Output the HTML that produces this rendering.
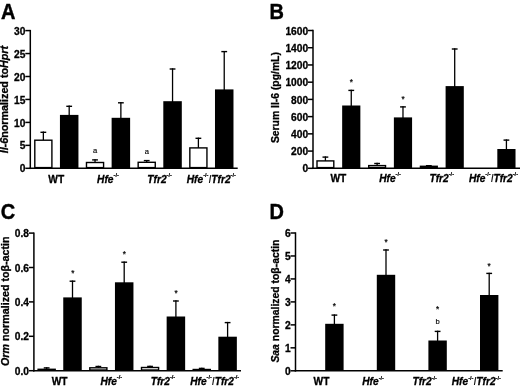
<!DOCTYPE html>
<html><head><meta charset="utf-8"><style>
html,body{margin:0;padding:0;background:#fff;}
svg{display:block;font-family:"Liberation Sans", sans-serif;will-change:transform;}
</style></head><body>
<svg width="520" height="387" viewBox="0 0 520 387">
<rect width="520" height="387" fill="#fff"/>
<text transform="translate(0.9,18.9) scale(0.9,1)" font-size="22.2" font-weight="bold" stroke="#000" stroke-width="0.45">A</text>
<line x1="30.30" y1="29.90" x2="30.30" y2="169.05" stroke="#000" stroke-width="1.5"/>
<line x1="29.55" y1="168.30" x2="237.70" y2="168.30" stroke="#000" stroke-width="1.5"/>
<line x1="25.30" y1="168.30" x2="30.30" y2="168.30" stroke="#000" stroke-width="1.5"/>
<text x="25.40" y="172.40" font-size="10.2" font-weight="bold" font-style="normal" text-anchor="end" stroke="#000" stroke-width="0.3" >0</text>
<line x1="25.30" y1="145.35" x2="30.30" y2="145.35" stroke="#000" stroke-width="1.5"/>
<text x="25.40" y="149.45" font-size="10.2" font-weight="bold" font-style="normal" text-anchor="end" stroke="#000" stroke-width="0.3" >5</text>
<line x1="25.30" y1="122.40" x2="30.30" y2="122.40" stroke="#000" stroke-width="1.5"/>
<text x="25.40" y="126.50" font-size="10.2" font-weight="bold" font-style="normal" text-anchor="end" stroke="#000" stroke-width="0.3" >10</text>
<line x1="25.30" y1="99.45" x2="30.30" y2="99.45" stroke="#000" stroke-width="1.5"/>
<text x="25.40" y="103.55" font-size="10.2" font-weight="bold" font-style="normal" text-anchor="end" stroke="#000" stroke-width="0.3" >15</text>
<line x1="25.30" y1="76.50" x2="30.30" y2="76.50" stroke="#000" stroke-width="1.5"/>
<text x="25.40" y="80.60" font-size="10.2" font-weight="bold" font-style="normal" text-anchor="end" stroke="#000" stroke-width="0.3" >20</text>
<line x1="25.30" y1="53.55" x2="30.30" y2="53.55" stroke="#000" stroke-width="1.5"/>
<text x="25.40" y="57.65" font-size="10.2" font-weight="bold" font-style="normal" text-anchor="end" stroke="#000" stroke-width="0.3" >25</text>
<line x1="25.30" y1="30.60" x2="30.30" y2="30.60" stroke="#000" stroke-width="1.5"/>
<text x="25.40" y="34.70" font-size="10.2" font-weight="bold" font-style="normal" text-anchor="end" stroke="#000" stroke-width="0.3" >30</text>
<line x1="43.35" y1="131.60" x2="43.35" y2="140.50" stroke="#000" stroke-width="1.3"/>
<line x1="40.45" y1="132.30" x2="46.25" y2="132.30" stroke="#000" stroke-width="1.4"/>
<rect x="34.80" y="140.20" width="17.10" height="27.40" fill="#fff" stroke="#000" stroke-width="1.4"/>
<line x1="69.19" y1="105.60" x2="69.19" y2="115.90" stroke="#000" stroke-width="1.3"/>
<line x1="66.29" y1="106.30" x2="72.09" y2="106.30" stroke="#000" stroke-width="1.4"/>
<rect x="59.94" y="114.90" width="18.50" height="53.40" fill="#000"/>
<line x1="95.03" y1="159.20" x2="95.03" y2="162.80" stroke="#000" stroke-width="1.3"/>
<line x1="92.13" y1="159.90" x2="97.93" y2="159.90" stroke="#000" stroke-width="1.4"/>
<rect x="86.48" y="162.50" width="17.10" height="5.10" fill="#fff" stroke="#000" stroke-width="1.4"/>
<line x1="120.87" y1="102.10" x2="120.87" y2="118.80" stroke="#000" stroke-width="1.3"/>
<line x1="117.97" y1="102.80" x2="123.77" y2="102.80" stroke="#000" stroke-width="1.4"/>
<rect x="111.62" y="117.80" width="18.50" height="50.50" fill="#000"/>
<line x1="146.71" y1="159.90" x2="146.71" y2="162.60" stroke="#000" stroke-width="1.3"/>
<line x1="143.81" y1="160.60" x2="149.61" y2="160.60" stroke="#000" stroke-width="1.4"/>
<rect x="138.16" y="162.30" width="17.10" height="5.30" fill="#fff" stroke="#000" stroke-width="1.4"/>
<line x1="172.55" y1="68.30" x2="172.55" y2="102.20" stroke="#000" stroke-width="1.3"/>
<line x1="169.65" y1="69.00" x2="175.45" y2="69.00" stroke="#000" stroke-width="1.4"/>
<rect x="163.30" y="101.20" width="18.50" height="67.10" fill="#000"/>
<line x1="198.39" y1="137.60" x2="198.39" y2="148.20" stroke="#000" stroke-width="1.3"/>
<line x1="195.49" y1="138.30" x2="201.29" y2="138.30" stroke="#000" stroke-width="1.4"/>
<rect x="189.84" y="147.90" width="17.10" height="19.70" fill="#fff" stroke="#000" stroke-width="1.4"/>
<line x1="224.23" y1="50.90" x2="224.23" y2="90.40" stroke="#000" stroke-width="1.3"/>
<line x1="221.33" y1="51.60" x2="227.13" y2="51.60" stroke="#000" stroke-width="1.4"/>
<rect x="214.98" y="89.40" width="18.50" height="78.90" fill="#000"/>
<text x="95.20" y="152.80" font-size="7.6" font-weight="normal" font-style="normal" text-anchor="middle" stroke="#000" stroke-width="0.15" >a</text>
<text x="146.90" y="153.50" font-size="7.6" font-weight="normal" font-style="normal" text-anchor="middle" stroke="#000" stroke-width="0.15" >a</text>
<text x="56.27" y="182.70" font-size="10.2" font-weight="bold" font-style="normal" text-anchor="middle" stroke="#000" stroke-width="0.3" >WT</text>
<text x="107.95" y="182.70" font-size="10.2" font-weight="bold" font-style="normal" text-anchor="middle" stroke="#000" stroke-width="0.3" ><tspan font-style="italic">Hfe</tspan><tspan font-size="5.6" dy="-5.6" stroke-width="0.2">-/-</tspan></text>
<text x="159.63" y="182.70" font-size="10.2" font-weight="bold" font-style="normal" text-anchor="middle" stroke="#000" stroke-width="0.3" ><tspan font-style="italic">Tfr2</tspan><tspan font-size="5.6" dy="-5.6" stroke-width="0.2">-/-</tspan></text>
<text x="211.31" y="182.70" font-size="10.2" font-weight="bold" font-style="normal" text-anchor="middle" stroke="#000" stroke-width="0.3" ><tspan font-style="italic">Hfe</tspan><tspan font-size="5.6" dy="-5.6" stroke-width="0.2">-/-</tspan><tspan dy="5.6" font-style="italic" font-weight="normal" stroke-width="0.1">I</tspan><tspan font-style="italic">Tfr2</tspan><tspan font-size="5.6" dy="-5.6" stroke-width="0.2">-/-</tspan></text>
<text transform="translate(7.6,99.6) rotate(-90)" font-size="10.8" font-weight="bold" text-anchor="middle" stroke="#000" stroke-width="0.3" textLength="107.5" lengthAdjust="spacingAndGlyphs"><tspan font-style="italic">Il-6</tspan>normalized to<tspan font-style="italic">Hprt</tspan></text>
<text transform="translate(269.5,18.5) scale(0.9,1)" font-size="22.2" font-weight="bold" stroke="#000" stroke-width="0.45">B</text>
<line x1="313.00" y1="29.80" x2="313.00" y2="169.05" stroke="#000" stroke-width="1.5"/>
<line x1="312.25" y1="168.30" x2="520.00" y2="168.30" stroke="#000" stroke-width="1.5"/>
<line x1="308.00" y1="168.30" x2="313.00" y2="168.30" stroke="#000" stroke-width="1.5"/>
<text x="308.10" y="172.40" font-size="10.2" font-weight="bold" font-style="normal" text-anchor="end" stroke="#000" stroke-width="0.3" >0</text>
<line x1="308.00" y1="151.08" x2="313.00" y2="151.08" stroke="#000" stroke-width="1.5"/>
<text x="308.10" y="155.18" font-size="10.2" font-weight="bold" font-style="normal" text-anchor="end" stroke="#000" stroke-width="0.3" >200</text>
<line x1="308.00" y1="133.85" x2="313.00" y2="133.85" stroke="#000" stroke-width="1.5"/>
<text x="308.10" y="137.95" font-size="10.2" font-weight="bold" font-style="normal" text-anchor="end" stroke="#000" stroke-width="0.3" >400</text>
<line x1="308.00" y1="116.62" x2="313.00" y2="116.62" stroke="#000" stroke-width="1.5"/>
<text x="308.10" y="120.72" font-size="10.2" font-weight="bold" font-style="normal" text-anchor="end" stroke="#000" stroke-width="0.3" >600</text>
<line x1="308.00" y1="99.40" x2="313.00" y2="99.40" stroke="#000" stroke-width="1.5"/>
<text x="308.10" y="103.50" font-size="10.2" font-weight="bold" font-style="normal" text-anchor="end" stroke="#000" stroke-width="0.3" >800</text>
<line x1="308.00" y1="82.18" x2="313.00" y2="82.18" stroke="#000" stroke-width="1.5"/>
<text x="308.10" y="86.28" font-size="10.2" font-weight="bold" font-style="normal" text-anchor="end" stroke="#000" stroke-width="0.3" >1000</text>
<line x1="308.00" y1="64.95" x2="313.00" y2="64.95" stroke="#000" stroke-width="1.5"/>
<text x="308.10" y="69.05" font-size="10.2" font-weight="bold" font-style="normal" text-anchor="end" stroke="#000" stroke-width="0.3" >1200</text>
<line x1="308.00" y1="47.72" x2="313.00" y2="47.72" stroke="#000" stroke-width="1.5"/>
<text x="308.10" y="51.82" font-size="10.2" font-weight="bold" font-style="normal" text-anchor="end" stroke="#000" stroke-width="0.3" >1400</text>
<line x1="308.00" y1="30.50" x2="313.00" y2="30.50" stroke="#000" stroke-width="1.5"/>
<text x="308.10" y="34.60" font-size="10.2" font-weight="bold" font-style="normal" text-anchor="end" stroke="#000" stroke-width="0.3" >1600</text>
<line x1="325.40" y1="156.40" x2="325.40" y2="161.20" stroke="#000" stroke-width="1.3"/>
<line x1="322.50" y1="157.10" x2="328.30" y2="157.10" stroke="#000" stroke-width="1.4"/>
<rect x="317.00" y="160.90" width="16.80" height="6.70" fill="#fff" stroke="#000" stroke-width="1.4"/>
<line x1="351.26" y1="89.70" x2="351.26" y2="106.50" stroke="#000" stroke-width="1.3"/>
<line x1="348.36" y1="90.40" x2="354.16" y2="90.40" stroke="#000" stroke-width="1.4"/>
<rect x="342.16" y="105.50" width="18.20" height="62.80" fill="#000"/>
<line x1="377.12" y1="162.80" x2="377.12" y2="165.90" stroke="#000" stroke-width="1.3"/>
<line x1="374.22" y1="163.50" x2="380.02" y2="163.50" stroke="#000" stroke-width="1.4"/>
<rect x="368.72" y="165.60" width="16.80" height="2.00" fill="#fff" stroke="#000" stroke-width="1.4"/>
<line x1="402.98" y1="106.20" x2="402.98" y2="118.40" stroke="#000" stroke-width="1.3"/>
<line x1="400.08" y1="106.90" x2="405.88" y2="106.90" stroke="#000" stroke-width="1.4"/>
<rect x="393.88" y="117.40" width="18.20" height="50.90" fill="#000"/>
<line x1="428.84" y1="165.00" x2="428.84" y2="166.60" stroke="#000" stroke-width="1.3"/>
<line x1="425.94" y1="165.70" x2="431.74" y2="165.70" stroke="#000" stroke-width="1.4"/>
<rect x="420.44" y="166.30" width="16.80" height="1.30" fill="#fff" stroke="#000" stroke-width="1.4"/>
<line x1="454.70" y1="48.30" x2="454.70" y2="87.10" stroke="#000" stroke-width="1.3"/>
<line x1="451.80" y1="49.00" x2="457.60" y2="49.00" stroke="#000" stroke-width="1.4"/>
<rect x="445.60" y="86.10" width="18.20" height="82.20" fill="#000"/>
<line x1="506.42" y1="139.40" x2="506.42" y2="150.00" stroke="#000" stroke-width="1.3"/>
<line x1="503.52" y1="140.10" x2="509.32" y2="140.10" stroke="#000" stroke-width="1.4"/>
<rect x="497.32" y="149.00" width="18.20" height="19.30" fill="#000"/>
<text x="351.40" y="84.91" font-size="8.2" font-weight="normal" font-style="normal" text-anchor="middle" stroke="#000" stroke-width="0.2" >*</text>
<text x="403.00" y="101.51" font-size="8.2" font-weight="normal" font-style="normal" text-anchor="middle" stroke="#000" stroke-width="0.2" >*</text>
<text x="338.33" y="181.90" font-size="10.2" font-weight="bold" font-style="normal" text-anchor="middle" stroke="#000" stroke-width="0.3" >WT</text>
<text x="390.05" y="181.90" font-size="10.2" font-weight="bold" font-style="normal" text-anchor="middle" stroke="#000" stroke-width="0.3" ><tspan font-style="italic">Hfe</tspan><tspan font-size="5.6" dy="-5.6" stroke-width="0.2">-/-</tspan></text>
<text x="441.77" y="181.90" font-size="10.2" font-weight="bold" font-style="normal" text-anchor="middle" stroke="#000" stroke-width="0.3" ><tspan font-style="italic">Tfr2</tspan><tspan font-size="5.6" dy="-5.6" stroke-width="0.2">-/-</tspan></text>
<text x="493.49" y="181.90" font-size="10.2" font-weight="bold" font-style="normal" text-anchor="middle" stroke="#000" stroke-width="0.3" ><tspan font-style="italic">Hfe</tspan><tspan font-size="5.6" dy="-5.6" stroke-width="0.2">-/-</tspan><tspan dy="5.6" font-style="italic" font-weight="normal" stroke-width="0.1">I</tspan><tspan font-style="italic">Tfr2</tspan><tspan font-size="5.6" dy="-5.6" stroke-width="0.2">-/-</tspan></text>
<text transform="translate(278.5,97.6) rotate(-90)" font-size="10.4" font-weight="bold" text-anchor="middle" stroke="#000" stroke-width="0.3" textLength="91" lengthAdjust="spacingAndGlyphs">Serum Il-6 (pg/mL)</text>
<text transform="translate(0.8,218.5) scale(0.9,1)" font-size="22.2" font-weight="bold" stroke="#000" stroke-width="0.45">C</text>
<line x1="33.90" y1="232.40" x2="33.90" y2="371.45" stroke="#000" stroke-width="1.5"/>
<line x1="33.15" y1="370.70" x2="241.00" y2="370.70" stroke="#000" stroke-width="1.5"/>
<line x1="28.90" y1="370.70" x2="33.90" y2="370.70" stroke="#000" stroke-width="1.5"/>
<text x="29.00" y="374.80" font-size="10.2" font-weight="bold" font-style="normal" text-anchor="end" stroke="#000" stroke-width="0.3" >0.0</text>
<line x1="28.90" y1="336.30" x2="33.90" y2="336.30" stroke="#000" stroke-width="1.5"/>
<text x="29.00" y="340.40" font-size="10.2" font-weight="bold" font-style="normal" text-anchor="end" stroke="#000" stroke-width="0.3" >0.2</text>
<line x1="28.90" y1="301.90" x2="33.90" y2="301.90" stroke="#000" stroke-width="1.5"/>
<text x="29.00" y="306.00" font-size="10.2" font-weight="bold" font-style="normal" text-anchor="end" stroke="#000" stroke-width="0.3" >0.4</text>
<line x1="28.90" y1="267.50" x2="33.90" y2="267.50" stroke="#000" stroke-width="1.5"/>
<text x="29.00" y="271.60" font-size="10.2" font-weight="bold" font-style="normal" text-anchor="end" stroke="#000" stroke-width="0.3" >0.6</text>
<line x1="28.90" y1="233.10" x2="33.90" y2="233.10" stroke="#000" stroke-width="1.5"/>
<text x="29.00" y="237.20" font-size="10.2" font-weight="bold" font-style="normal" text-anchor="end" stroke="#000" stroke-width="0.3" >0.8</text>
<line x1="46.65" y1="367.20" x2="46.65" y2="369.60" stroke="#000" stroke-width="1.3"/>
<line x1="43.75" y1="367.90" x2="49.55" y2="367.90" stroke="#000" stroke-width="1.4"/>
<rect x="38.10" y="369.30" width="17.10" height="0.70" fill="#fff" stroke="#000" stroke-width="1.4"/>
<line x1="72.50" y1="280.50" x2="72.50" y2="298.40" stroke="#000" stroke-width="1.3"/>
<line x1="69.60" y1="281.20" x2="75.40" y2="281.20" stroke="#000" stroke-width="1.4"/>
<rect x="63.25" y="297.40" width="18.50" height="73.30" fill="#000"/>
<line x1="98.35" y1="365.80" x2="98.35" y2="368.10" stroke="#000" stroke-width="1.3"/>
<line x1="95.45" y1="366.50" x2="101.25" y2="366.50" stroke="#000" stroke-width="1.4"/>
<rect x="89.80" y="367.80" width="17.10" height="2.20" fill="#fff" stroke="#000" stroke-width="1.4"/>
<line x1="124.20" y1="261.50" x2="124.20" y2="283.30" stroke="#000" stroke-width="1.3"/>
<line x1="121.30" y1="262.20" x2="127.10" y2="262.20" stroke="#000" stroke-width="1.4"/>
<rect x="114.95" y="282.30" width="18.50" height="88.40" fill="#000"/>
<line x1="150.05" y1="365.70" x2="150.05" y2="367.80" stroke="#000" stroke-width="1.3"/>
<line x1="147.15" y1="366.40" x2="152.95" y2="366.40" stroke="#000" stroke-width="1.4"/>
<rect x="141.50" y="367.50" width="17.10" height="2.50" fill="#fff" stroke="#000" stroke-width="1.4"/>
<line x1="175.90" y1="300.30" x2="175.90" y2="317.50" stroke="#000" stroke-width="1.3"/>
<line x1="173.00" y1="301.00" x2="178.80" y2="301.00" stroke="#000" stroke-width="1.4"/>
<rect x="166.65" y="316.50" width="18.50" height="54.20" fill="#000"/>
<line x1="201.75" y1="367.70" x2="201.75" y2="369.80" stroke="#000" stroke-width="1.3"/>
<line x1="198.85" y1="368.40" x2="204.65" y2="368.40" stroke="#000" stroke-width="1.4"/>
<rect x="193.20" y="369.50" width="17.10" height="0.50" fill="#fff" stroke="#000" stroke-width="1.4"/>
<line x1="227.60" y1="321.90" x2="227.60" y2="337.70" stroke="#000" stroke-width="1.3"/>
<line x1="224.70" y1="322.60" x2="230.50" y2="322.60" stroke="#000" stroke-width="1.4"/>
<rect x="218.35" y="336.70" width="18.50" height="34.00" fill="#000"/>
<text x="72.80" y="276.31" font-size="8.2" font-weight="normal" font-style="normal" text-anchor="middle" stroke="#000" stroke-width="0.2" >*</text>
<text x="124.40" y="257.31" font-size="8.2" font-weight="normal" font-style="normal" text-anchor="middle" stroke="#000" stroke-width="0.2" >*</text>
<text x="176.00" y="295.61" font-size="8.2" font-weight="normal" font-style="normal" text-anchor="middle" stroke="#000" stroke-width="0.2" >*</text>
<text x="59.58" y="385.00" font-size="10.2" font-weight="bold" font-style="normal" text-anchor="middle" stroke="#000" stroke-width="0.3" >WT</text>
<text x="111.27" y="385.00" font-size="10.2" font-weight="bold" font-style="normal" text-anchor="middle" stroke="#000" stroke-width="0.3" ><tspan font-style="italic">Hfe</tspan><tspan font-size="5.6" dy="-5.6" stroke-width="0.2">-/-</tspan></text>
<text x="162.98" y="385.00" font-size="10.2" font-weight="bold" font-style="normal" text-anchor="middle" stroke="#000" stroke-width="0.3" ><tspan font-style="italic">Tfr2</tspan><tspan font-size="5.6" dy="-5.6" stroke-width="0.2">-/-</tspan></text>
<text x="214.68" y="385.00" font-size="10.2" font-weight="bold" font-style="normal" text-anchor="middle" stroke="#000" stroke-width="0.3" ><tspan font-style="italic">Hfe</tspan><tspan font-size="5.6" dy="-5.6" stroke-width="0.2">-/-</tspan><tspan dy="5.6" font-style="italic" font-weight="normal" stroke-width="0.1">I</tspan><tspan font-style="italic">Tfr2</tspan><tspan font-size="5.6" dy="-5.6" stroke-width="0.2">-/-</tspan></text>
<text transform="translate(8.5,301.2) rotate(-90)" font-size="10.8" font-weight="bold" text-anchor="middle" stroke="#000" stroke-width="0.3" textLength="129.5" lengthAdjust="spacingAndGlyphs"><tspan font-style="italic">Orm</tspan> normalized to&#946;-actin</text>
<text transform="translate(269.5,218.5) scale(0.9,1)" font-size="22.2" font-weight="bold" stroke="#000" stroke-width="0.45">D</text>
<line x1="295.50" y1="232.30" x2="295.50" y2="371.55" stroke="#000" stroke-width="1.5"/>
<line x1="294.75" y1="370.80" x2="502.70" y2="370.80" stroke="#000" stroke-width="1.5"/>
<line x1="290.50" y1="370.80" x2="295.50" y2="370.80" stroke="#000" stroke-width="1.5"/>
<text x="290.60" y="374.90" font-size="10.2" font-weight="bold" font-style="normal" text-anchor="end" stroke="#000" stroke-width="0.3" >0</text>
<line x1="290.50" y1="347.83" x2="295.50" y2="347.83" stroke="#000" stroke-width="1.5"/>
<text x="290.60" y="351.93" font-size="10.2" font-weight="bold" font-style="normal" text-anchor="end" stroke="#000" stroke-width="0.3" >1</text>
<line x1="290.50" y1="324.87" x2="295.50" y2="324.87" stroke="#000" stroke-width="1.5"/>
<text x="290.60" y="328.97" font-size="10.2" font-weight="bold" font-style="normal" text-anchor="end" stroke="#000" stroke-width="0.3" >2</text>
<line x1="290.50" y1="301.90" x2="295.50" y2="301.90" stroke="#000" stroke-width="1.5"/>
<text x="290.60" y="306.00" font-size="10.2" font-weight="bold" font-style="normal" text-anchor="end" stroke="#000" stroke-width="0.3" >3</text>
<line x1="290.50" y1="278.93" x2="295.50" y2="278.93" stroke="#000" stroke-width="1.5"/>
<text x="290.60" y="283.03" font-size="10.2" font-weight="bold" font-style="normal" text-anchor="end" stroke="#000" stroke-width="0.3" >4</text>
<line x1="290.50" y1="255.97" x2="295.50" y2="255.97" stroke="#000" stroke-width="1.5"/>
<text x="290.60" y="260.07" font-size="10.2" font-weight="bold" font-style="normal" text-anchor="end" stroke="#000" stroke-width="0.3" >5</text>
<line x1="290.50" y1="233.00" x2="295.50" y2="233.00" stroke="#000" stroke-width="1.5"/>
<text x="290.60" y="237.10" font-size="10.2" font-weight="bold" font-style="normal" text-anchor="end" stroke="#000" stroke-width="0.3" >6</text>
<line x1="334.40" y1="314.40" x2="334.40" y2="324.80" stroke="#000" stroke-width="1.3"/>
<line x1="331.50" y1="315.10" x2="337.30" y2="315.10" stroke="#000" stroke-width="1.4"/>
<rect x="325.20" y="323.80" width="18.40" height="47.00" fill="#000"/>
<line x1="386.00" y1="249.30" x2="386.00" y2="275.80" stroke="#000" stroke-width="1.3"/>
<line x1="383.10" y1="250.00" x2="388.90" y2="250.00" stroke="#000" stroke-width="1.4"/>
<rect x="376.80" y="274.80" width="18.40" height="96.00" fill="#000"/>
<line x1="437.60" y1="330.70" x2="437.60" y2="341.50" stroke="#000" stroke-width="1.3"/>
<line x1="434.70" y1="331.40" x2="440.50" y2="331.40" stroke="#000" stroke-width="1.4"/>
<rect x="428.40" y="340.50" width="18.40" height="30.30" fill="#000"/>
<line x1="489.20" y1="272.70" x2="489.20" y2="296.00" stroke="#000" stroke-width="1.3"/>
<line x1="486.30" y1="273.40" x2="492.10" y2="273.40" stroke="#000" stroke-width="1.4"/>
<rect x="480.00" y="295.00" width="18.40" height="75.80" fill="#000"/>
<text x="334.40" y="309.41" font-size="8.2" font-weight="normal" font-style="normal" text-anchor="middle" stroke="#000" stroke-width="0.2" >*</text>
<text x="386.00" y="245.21" font-size="8.2" font-weight="normal" font-style="normal" text-anchor="middle" stroke="#000" stroke-width="0.2" >*</text>
<text x="437.60" y="312.41" font-size="8.2" font-weight="normal" font-style="normal" text-anchor="middle" stroke="#000" stroke-width="0.2" >*</text>
<text x="437.60" y="323.70" font-size="7.6" font-weight="normal" font-style="normal" text-anchor="middle" stroke="#000" stroke-width="0.15" >b</text>
<text x="489.20" y="268.81" font-size="8.2" font-weight="normal" font-style="normal" text-anchor="middle" stroke="#000" stroke-width="0.2" >*</text>
<text x="321.50" y="385.20" font-size="10.2" font-weight="bold" font-style="normal" text-anchor="middle" stroke="#000" stroke-width="0.3" >WT</text>
<text x="373.10" y="385.20" font-size="10.2" font-weight="bold" font-style="normal" text-anchor="middle" stroke="#000" stroke-width="0.3" ><tspan font-style="italic">Hfe</tspan><tspan font-size="5.6" dy="-5.6" stroke-width="0.2">-/-</tspan></text>
<text x="424.70" y="385.20" font-size="10.2" font-weight="bold" font-style="normal" text-anchor="middle" stroke="#000" stroke-width="0.3" ><tspan font-style="italic">Tfr2</tspan><tspan font-size="5.6" dy="-5.6" stroke-width="0.2">-/-</tspan></text>
<text x="476.30" y="385.20" font-size="10.2" font-weight="bold" font-style="normal" text-anchor="middle" stroke="#000" stroke-width="0.3" ><tspan font-style="italic">Hfe</tspan><tspan font-size="5.6" dy="-5.6" stroke-width="0.2">-/-</tspan><tspan dy="5.6" font-style="italic" font-weight="normal" stroke-width="0.1">I</tspan><tspan font-style="italic">Tfr2</tspan><tspan font-size="5.6" dy="-5.6" stroke-width="0.2">-/-</tspan></text>
<text transform="translate(278.8,301.1) rotate(-90)" font-size="10.4" font-weight="bold" text-anchor="middle" stroke="#000" stroke-width="0.3" textLength="123" lengthAdjust="spacingAndGlyphs"><tspan font-style="italic">Saa</tspan> normalized to&#946;-actin</text>
</svg>
</body></html>
